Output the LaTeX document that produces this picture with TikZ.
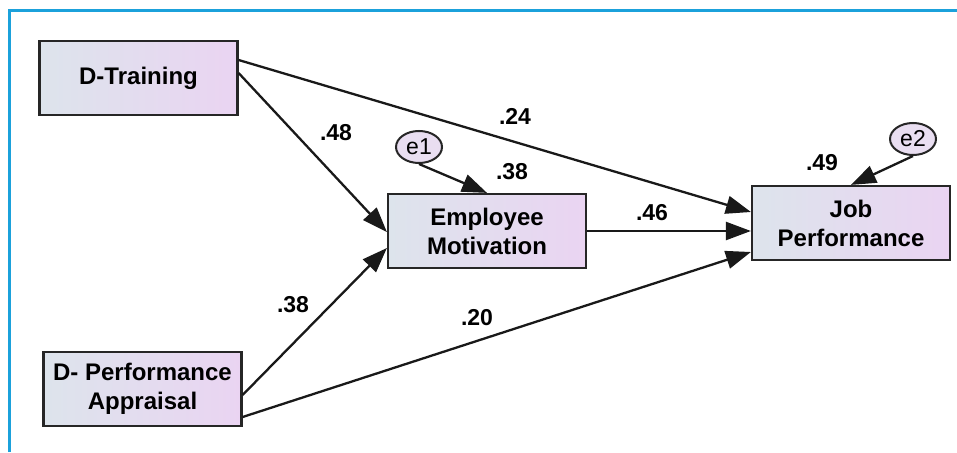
\documentclass[tikz,border=0pt]{standalone}
\usepackage{fontspec}
\setmainfont{Liberation Sans}
\usetikzlibrary{arrows.meta,shapes.geometric}
\definecolor{frameblue}{HTML}{1BA1DB}
\definecolor{boxleft}{HTML}{DDE4EC}
\definecolor{boxright}{HTML}{EAD4F2}
\definecolor{errfill}{HTML}{E9DEF1}
\begin{document}
\begin{tikzpicture}[x=1pt,y=-1pt,
  var/.style={draw=black!85, line width=2.2pt, left color=boxleft, right color=boxright,
    minimum width=198pt, minimum height=74pt, align=center, inner sep=0pt,
    font=\fontsize{24}{29}\selectfont\bfseries},
  err/.style={ellipse, draw=black!85, line width=2pt, fill=errfill, minimum width=46pt,
    minimum height=32pt, inner sep=0pt, font=\fontsize{23}{26}\selectfont},
  coef/.style={font=\fontsize{23}{26}\selectfont\bfseries, inner sep=0pt},
  patharrow/.style={line width=2.3pt, black!90, -{Triangle[length=25pt,width=18pt]}}]
\useasboundingbox (0,0) rectangle (957,452);
\fill[white] (0,0) rectangle (957,452);
\draw[frameblue, line width=3.5pt] (9.5,452) -- (9.5,10.5) -- (957,10.5);

\node[var] (DT) at (138.5,78) {D-Training};
\node[var] (DPA) at (142.5,389) {D- Performance\\Appraisal};
\node[var] (EM) at (487,231) {Employee\\Motivation};
\node[var] (JP) at (851,223) {Job\\Performance};
\node[err] (e1) at (419,147) {e1};
\node[err] (e2) at (913,139) {e2};

\draw[patharrow] ([yshift=18pt]DT.east) -- ([yshift=11pt]JP.west);
\draw[patharrow] ([yshift=5pt]DT.east) -- ([yshift=-1pt]EM.west);
\draw[patharrow] ([yshift=-6pt]DPA.east) -- ([yshift=-17pt]EM.west);
\draw[patharrow] ([yshift=-28pt]DPA.east) -- ([yshift=-29pt]JP.west);
\draw[patharrow] (EM.east) -- (EM.east -| JP.west);
\draw[patharrow] (e1.south) -- (EM.north);
\draw[patharrow] (e2.south) -- (JP.north);

\node[coef] (c24) at (515,116) {.24};
\node[coef] (c48) at (336,133) {.48};
\node[coef] (c38a) at (512,172) {.38};
\node[coef] (c46) at (652,213) {.46};
\node[coef] (c38b) at (293,305) {.38};
\node[coef] (c20) at (477,318) {.20};
\node[coef] (c49) at (822,163) {.49};
\end{tikzpicture}
\end{document}
